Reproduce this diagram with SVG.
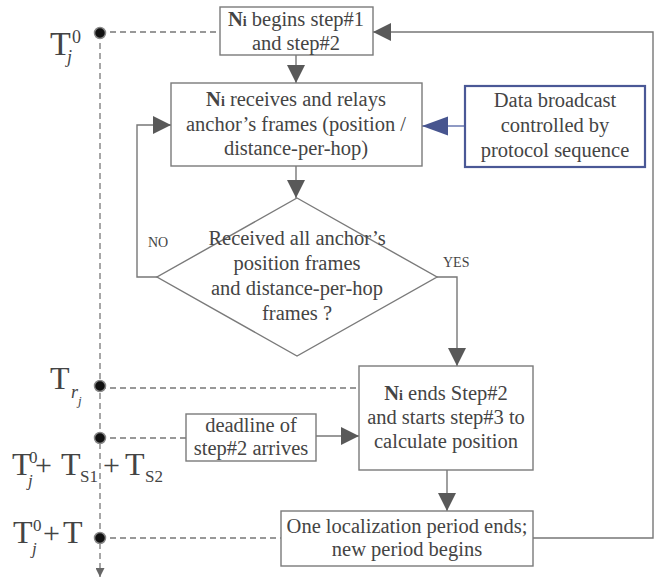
<svg xmlns="http://www.w3.org/2000/svg" width="669" height="583" viewBox="0 0 669 583">
<style>
.box{fill:#fff;stroke:#7a7a7a;stroke-width:1.4}
.bbox{fill:#fff;stroke:#4a5896;stroke-width:2.2}
.t{font-family:"Liberation Serif","Times New Roman","DejaVu Serif",serif;font-size:20.5px;fill:#444;text-anchor:middle}
.lbl{font-family:"Liberation Serif","Times New Roman","DejaVu Serif",serif;font-size:14px;fill:#444}
.m{font-family:"Liberation Serif","Times New Roman","DejaVu Serif",serif;fill:#444}
.ln{fill:none;stroke:#777;stroke-width:1.4}
.dash{fill:none;stroke:#777;stroke-width:1.3;stroke-dasharray:6 4}
.dot{fill:#111;stroke:#888;stroke-width:1.5}
</style>
<defs>
<marker id="ah" markerUnits="userSpaceOnUse" markerWidth="18" markerHeight="18" refX="18" refY="9" orient="auto">
<path d="M0,0 L18,9 L0,18 z" fill="#595959"/>
</marker>
<marker id="ahb" markerUnits="userSpaceOnUse" markerWidth="27" markerHeight="20" refX="26" refY="9.5" orient="auto">
<path d="M0,0 L26,9.5 L0,19 z" fill="#47558f"/>
</marker>
<marker id="ahs" markerUnits="userSpaceOnUse" markerWidth="9" markerHeight="9" refX="9" refY="4.5" orient="auto">
<path d="M0,0 L9,4.5 L0,9 z" fill="#666"/>
</marker>
</defs>

<g id="connectors">
<line class="dash" x1="100" y1="33" x2="100" y2="577" marker-end="url(#ahs)"/>
<line class="dash" x1="100" y1="32" x2="220" y2="32"/>
<line class="dash" x1="100" y1="388" x2="359" y2="388"/>
<line class="dash" x1="100" y1="438" x2="186" y2="438"/>
<line class="dash" x1="100" y1="538" x2="281" y2="538"/>
<line class="ln" x1="296" y1="55" x2="296" y2="83" marker-end="url(#ah)"/>
<line class="ln" x1="296" y1="166" x2="296" y2="198" marker-end="url(#ah)"/>
<polyline class="ln" points="157,277 137,277 137,125 171,125" marker-end="url(#ah)"/>
<polyline class="ln" points="437,277 457,277 457,366" marker-end="url(#ah)"/>
<line class="ln" x1="316" y1="436" x2="359" y2="436" marker-end="url(#ah)"/>
<line class="ln" x1="447" y1="470" x2="447" y2="511" marker-end="url(#ah)"/>
<polyline class="ln" points="533,538 653,538 653,32 373,32" marker-end="url(#ah)"/>
<line x1="465" y1="126" x2="422" y2="126" stroke="#6a78b0" stroke-width="1.5" marker-end="url(#ahb)"/>
<text class="lbl" x="148" y="247">NO</text>
<text class="lbl" x="443" y="267">YES</text>
</g>

<g id="dots">
<circle class="dot" cx="100" cy="33" r="5.5"/>
<circle class="dot" cx="100" cy="386" r="5.5"/>
<circle class="dot" cx="100" cy="438" r="5.5"/>
<circle class="dot" cx="100" cy="538" r="5.5"/>
</g>

<g id="time-labels">
<text class="m" x="50" y="55" font-size="34">T<tspan x="72" y="43" font-size="18">0</tspan><tspan x="67" y="63" font-size="18" font-style="italic">j</tspan></text>
<text class="m" x="50" y="389" font-size="32">T<tspan x="71" y="398" font-size="18" font-style="italic">r</tspan><tspan x="78" y="405" font-size="13" font-style="italic">j</tspan></text>
<text class="m" x="12" y="475" font-size="32">T<tspan x="29" y="463" font-size="17">0</tspan><tspan x="28" y="486" font-size="17" font-style="italic">j</tspan><tspan x="35" y="475" font-size="30">+</tspan><tspan x="61" y="475">T</tspan><tspan x="80" y="482" font-size="17">S1</tspan><tspan x="103" y="475" font-size="30">+</tspan><tspan x="125" y="475">T</tspan><tspan x="145" y="482" font-size="17">S2</tspan></text>
<text class="m" x="13" y="543" font-size="32">T<tspan x="33" y="531" font-size="17">0</tspan><tspan x="32" y="554" font-size="17" font-style="italic">j</tspan><tspan x="43" y="543" font-size="30">+</tspan><tspan x="63" y="543">T</tspan></text>
</g>

<g id="node-begin">
<rect class="box" x="220" y="7" width="153" height="48"/>
<text class="t" x="296" y="26"><tspan font-weight="bold">N</tspan><tspan font-weight="bold" font-size="14">i</tspan> begins step#1</text>
<text class="t" x="296" y="50">and step#2</text>
</g>

<g id="node-receive">
<rect class="box" x="171" y="83" width="251" height="83"/>
<text class="t" x="296" y="106"><tspan font-weight="bold">N</tspan><tspan font-weight="bold" font-size="14">i</tspan> receives and relays</text>
<text class="t" x="296" y="131">anchor’s frames (position /</text>
<text class="t" x="296" y="155">distance-per-hop)</text>
</g>

<g id="node-broadcast">
<rect class="bbox" x="465" y="86" width="180" height="81"/>
<text class="t" x="555" y="107">Data broadcast</text>
<text class="t" x="555" y="132">controlled by</text>
<text class="t" x="555" y="157">protocol sequence</text>
</g>

<g id="node-decision">
<polygon class="box" points="297,198 437,277 297,356 157,277"/>
<text class="t" x="297" y="245">Received all anchor’s</text>
<text class="t" x="297" y="270">position frames</text>
<text class="t" x="297" y="295">and distance-per-hop</text>
<text class="t" x="297" y="320">frames ?</text>
</g>

<g id="node-ends">
<rect class="box" x="359" y="366" width="174" height="104"/>
<text class="t" x="446" y="400"><tspan font-weight="bold">N</tspan><tspan font-weight="bold" font-size="14">i</tspan>  ends Step#2</text>
<text class="t" x="446" y="424">and starts step#3 to</text>
<text class="t" x="446" y="448">calculate position</text>
</g>

<g id="node-deadline">
<rect class="box" x="186" y="414" width="130" height="47"/>
<text class="t" x="251" y="432">deadline of</text>
<text class="t" x="251" y="455">step#2 arrives</text>
</g>

<g id="node-period">
<rect class="box" x="281" y="511" width="252" height="55"/>
<text class="t" x="407" y="533">One localization period ends;</text>
<text class="t" x="407" y="556">new period begins</text>
</g>
</svg>
